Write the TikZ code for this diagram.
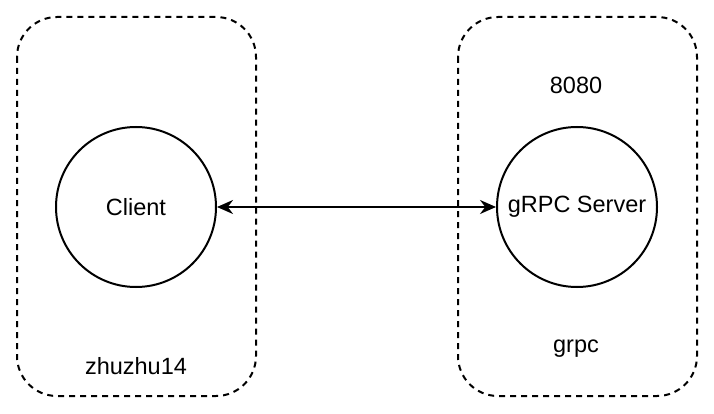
\documentclass[tikz,border=0pt]{standalone}
\usepackage{fontspec}
\setmainfont{Liberation Sans}
\usetikzlibrary{arrows.meta}
\tikzset{
  hostbox/.style={draw=black, line width=2pt, dash pattern=on 6pt off 5pt, rounded corners=40pt},
  svc/.style={circle, draw=black, line width=2pt, minimum size=160pt, inner sep=0pt, font=\fontsize{23.5}{28}\selectfont},
  lbl/.style={font=\fontsize{23.5}{28}\selectfont, inner sep=0pt},
  link/.style={line width=2pt, {Stealth[length=16pt,width=14pt]}-{Stealth[length=16pt,width=14pt]}}
}
\begin{document}
\begin{tikzpicture}[x=1pt,y=-1pt]
\useasboundingbox (0,0) rectangle (714,414);
\draw[hostbox] (17,17) rectangle (256,396);
\draw[hostbox] (458,17) rectangle (697,396);
\node[svc] (client) at (136,207) {Client};
\node[svc] (server) at (577,207) {gRPC Server};
\node[lbl] (port) at (576,85) {8080};
\node[lbl] (host1) at (136,366) {zhuzhu14};
\node[lbl] (host2) at (576,349) {grpc};
\draw[link] (client) -- (server);
\end{tikzpicture}
\end{document}
